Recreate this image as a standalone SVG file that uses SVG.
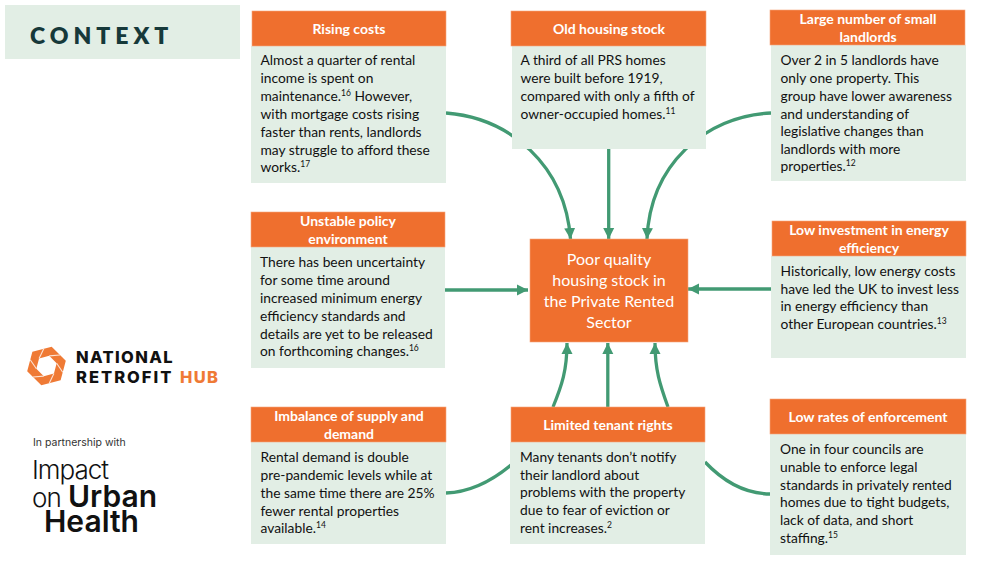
<svg xmlns="http://www.w3.org/2000/svg" width="1000" height="567" viewBox="0 0 1000 567">
<style>
text{font-family:Lato,"Open Sans","Liberation Sans",sans-serif}
.h{fill:#ef6f2e;stroke:#f6a67c;stroke-width:.6}
.b{fill:#e2eee5}
.ht{fill:#fff;font-size:14px;font-weight:700;text-anchor:middle}
.bt{fill:#111;font-size:13.8px}
.sup{font-size:8.5px}
.c{fill:none;stroke:#429a73;stroke-width:3.3}
.lg{font-family:Inter,"Liberation Sans",sans-serif}
.gap{stroke:#fbe3d5;stroke-width:1.1}
</style>
<defs>
<marker id="ah" markerUnits="userSpaceOnUse" markerWidth="13" markerHeight="13" refX="11" refY="6.500" orient="auto"><path d="M0 1L11 6.500L0 12Z" fill="#429a73"/></marker>
</defs>
<rect x="5" y="5" width="235" height="54" fill="#e2eee5"/>
<text x="30" y="44" font-size="23" font-weight="800" fill="#16393a" letter-spacing="5">CONTEXT</text>
<g id="connectors">
<path class="c" d="M446 113C510 118 565 165 570.500 239" marker-end="url(#ah)"/>
<path class="c" d="M608.700 148V239" marker-end="url(#ah)"/>
<path class="c" d="M771 113C705 116 650 165 647 239" marker-end="url(#ah)"/>
<path class="c" d="M445 290H528" marker-end="url(#ah)"/>
<path class="c" d="M771 289H688" marker-end="url(#ah)"/>
<path class="c" d="M553 407C562 385 567 370 567 343" marker-end="url(#ah)"/>
<path class="c" d="M607.800 407V343" marker-end="url(#ah)"/>
<path class="c" d="M668 407C660 385 655 370 655 343" marker-end="url(#ah)"/>
<path class="c" d="M446 493C472 492 493 480 511 465"/>
<path class="c" d="M705 462C722 480 745 494 771 494"/>
</g>
<g id="node-rising-costs"><rect class="b" x="251" y="46" width="195" height="137"/><rect class="h" x="252" y="11" width="194" height="35"/><text class="ht" x="349" y="34">Rising costs</text>
<text class="bt"><tspan x="260.500" y="65">Almost a quarter of rental</tspan><tspan x="260.500" y="83">income is spent on</tspan><tspan x="260.500" y="101">maintenance.<tspan class="sup" dy="-5">16</tspan><tspan dy="5"> However,</tspan></tspan><tspan x="260.500" y="119">with mortgage costs rising</tspan><tspan x="260.500" y="137">faster than rents, landlords</tspan><tspan x="260.500" y="155">may struggle to afford these</tspan><tspan x="260.500" y="172">works.<tspan class="sup" dy="-5">17</tspan></tspan></text></g>
<g id="node-old-housing"><rect class="b" x="512" y="46" width="194" height="103"/><rect class="h" x="511" y="11" width="195" height="35"/><text class="ht" x="609" y="34">Old housing stock</text>
<text class="bt"><tspan x="520.500" y="65">A third of all PRS homes</tspan><tspan x="520.500" y="83">were built before 1919,</tspan><tspan x="520.500" y="101">compared with only a fifth of</tspan><tspan x="520.500" y="119">owner-occupied homes.<tspan class="sup" dy="-5">11</tspan></tspan></text></g>
<g id="node-small-landlords"><rect class="b" x="771" y="45" width="195" height="136"/><rect class="h" x="770" y="10" width="195" height="35"/><text class="ht"><tspan x="868" y="24">Large number of small</tspan><tspan x="868" y="42">landlords</tspan></text>
<text class="bt"><tspan x="780.500" y="65">Over 2 in 5 landlords have</tspan><tspan x="780.500" y="83">only one property. This</tspan><tspan x="780.500" y="101">group have lower awareness</tspan><tspan x="780.500" y="119">and understanding of</tspan><tspan x="780.500" y="136">legislative changes than</tspan><tspan x="780.500" y="154">landlords with more</tspan><tspan x="780.500" y="171">properties.<tspan class="sup" dy="-5">12</tspan></tspan></text></g>
<g id="node-policy"><rect class="b" x="251" y="247" width="194" height="121"/><rect class="h" x="251" y="212" width="194" height="35"/><text class="ht"><tspan x="348" y="226">Unstable policy</tspan><tspan x="348" y="244">environment</tspan></text>
<text class="bt"><tspan x="260" y="267">There has been uncertainty</tspan><tspan x="260" y="285">for some time around</tspan><tspan x="260" y="303">increased minimum energy</tspan><tspan x="260" y="321">efficiency standards and</tspan><tspan x="260" y="339">details are yet to be released</tspan><tspan x="260" y="356">on forthcoming changes.<tspan class="sup" dy="-5">16</tspan></tspan></text></g>
<g id="node-investment"><rect class="b" x="771" y="256" width="195" height="102"/><rect class="h" x="772" y="221" width="194" height="35"/><text class="ht"><tspan x="869" y="235">Low investment in energy</tspan><tspan x="869" y="253">efficiency</tspan></text>
<text class="bt"><tspan x="780.500" y="276">Historically, low energy costs</tspan><tspan x="780.500" y="294">have led the UK to invest less</tspan><tspan x="780.500" y="311">in energy efficiency than</tspan><tspan x="780.500" y="329">other European countries.<tspan class="sup" dy="-5">13</tspan></tspan></text></g>
<g id="node-supply"><rect class="b" x="251" y="442" width="195" height="102"/><rect class="h" x="251" y="407" width="195" height="35"/><text class="ht"><tspan x="349" y="421">Imbalance of supply and</tspan><tspan x="349" y="439">demand</tspan></text>
<text class="bt"><tspan x="260.500" y="462">Rental demand is double</tspan><tspan x="260.500" y="480">pre-pandemic levels while at</tspan><tspan x="260.500" y="498">the same time there are 25%</tspan><tspan x="260.500" y="516">fewer rental properties</tspan><tspan x="260.500" y="533">available.<tspan class="sup" dy="-5">14</tspan></tspan></text></g>
<g id="node-tenant"><rect class="b" x="510" y="442" width="195" height="102"/><rect class="h" x="511" y="407" width="194" height="35"/><text class="ht" x="608" y="430">Limited tenant rights</text>
<text class="bt"><tspan x="520" y="462">Many tenants don’t notify</tspan><tspan x="520" y="480">their landlord about</tspan><tspan x="520" y="497">problems with the property</tspan><tspan x="520" y="515">due to fear of eviction or</tspan><tspan x="520" y="533">rent increases.<tspan class="sup" dy="-5">2</tspan></tspan></text></g>
<g id="node-enforcement"><rect class="b" x="770" y="434" width="196" height="121"/><rect class="h" x="770" y="399" width="196" height="35"/><text class="ht" x="868" y="422">Low rates of enforcement</text>
<text class="bt"><tspan x="780" y="454">One in four councils are</tspan><tspan x="780" y="472">unable to enforce legal</tspan><tspan x="780" y="490">standards in privately rented</tspan><tspan x="780" y="507">homes due to tight budgets,</tspan><tspan x="780" y="525">lack of data, and short</tspan><tspan x="780" y="543">staffing.<tspan class="sup" dy="-5">15</tspan></tspan></text></g>
<g id="node-central"><rect x="530" y="239" width="158" height="103" fill="#ef6f2e" stroke="#f6a67c" stroke-width=".6"/><text fill="#fff" font-size="16" text-anchor="middle"><tspan x="609" y="265">Poor quality</tspan><tspan x="609" y="286">housing stock in</tspan><tspan x="609" y="307">the Private Rented</tspan><tspan x="609" y="328">Sector</tspan></text></g>
<g id="logo-nrh">
<g transform="rotate(15 46.500 366)">
<path fill="#ef7a35" fill-rule="evenodd" d="M46.500 346L63.800 356V376L46.500 386L29.200 376V356Z M46.500 355.500L37.400 360.750V371.250L46.500 376.500L55.600 371.250V360.750Z"/>
<path class="gap" d="M46.500 355.500L56.700 351.900"/>
<path class="gap" transform="rotate(60 46.500 366)" d="M46.500 355.500L56.700 351.900"/>
<path class="gap" transform="rotate(120 46.500 366)" d="M46.500 355.500L56.700 351.900"/>
<path class="gap" transform="rotate(180 46.500 366)" d="M46.500 355.500L56.700 351.900"/>
<path class="gap" transform="rotate(240 46.500 366)" d="M46.500 355.500L56.700 351.900"/>
<path class="gap" transform="rotate(300 46.500 366)" d="M46.500 355.500L56.700 351.900"/>
</g>
<text class="lg" font-size="16.500" font-weight="800" letter-spacing="1.350" fill="#111"><tspan x="76" y="363">NATIONAL</tspan><tspan x="76" y="383" letter-spacing="2">RETROFIT</tspan><tspan x="180" y="383" fill="#ef7a35">HUB</tspan></text>
</g>
<g id="logo-iouh" fill="#111">
<text class="lg" x="33" y="446" font-size="10.500" fill="#333">In partnership with</text>
<text class="lg" x="32" y="479" font-size="26" font-weight="300" letter-spacing="-1">Impact</text>
<text class="lg" x="32" y="507" font-size="26" font-weight="300" letter-spacing="-1">on</text>
<text class="lg" x="68" y="507" font-size="30" font-weight="600">Urban</text>
<text class="lg" x="44" y="532" font-size="30" font-weight="600">Health</text>
</g>
</svg>
